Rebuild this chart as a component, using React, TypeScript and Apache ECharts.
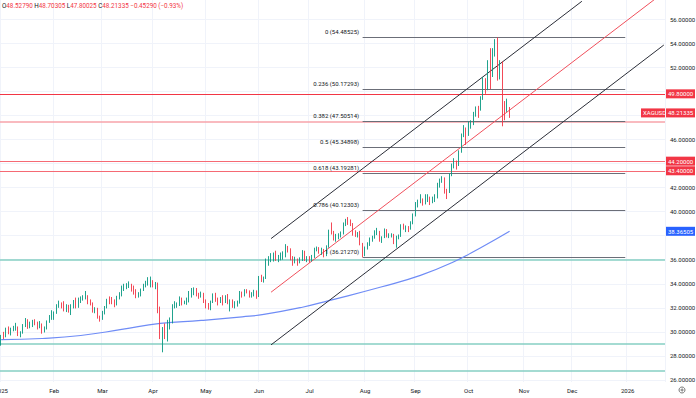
import React, { useEffect, useRef } from 'react';
import * as echarts from 'echarts';

// ---- daily candles, [open, high, low, close] per trading day ----
const jan = [
  [28.95, 29.75, 28.85, 29.65], [29.65, 30.0, 29.4, 29.62], [29.62, 30.35, 29.55, 30.05], [30.05, 30.45, 29.8, 29.95],
  [29.95, 30.35, 29.7, 30.25], [30.25, 30.5, 30.05, 30.3], [30.3, 30.75, 30.1, 30.4], [30.4, 30.45, 29.65, 29.75],
  [29.75, 30.05, 29.55, 29.95], [29.95, 30.65, 29.85, 30.55], [30.55, 31.15, 30.4, 30.95], [30.95, 31.05, 30.25, 30.4],
  [30.4, 30.85, 30.3, 30.7], [30.7, 31.0, 30.4, 30.8], [30.8, 31.05, 30.55, 30.7], [30.7, 30.85, 30.2, 30.35],
  [30.35, 30.9, 30.3, 30.65], [30.65, 30.7, 29.85, 30.1], [30.1, 30.45, 29.95, 30.35], [30.35, 30.95, 30.2, 30.85],
  [30.85, 31.4, 30.75, 31.25], [31.25, 31.8, 31.0, 31.3],
];
const feb = [
  [31.3, 31.7, 31.0, 31.6], [31.6, 32.3, 31.5, 32.2], [32.2, 32.6, 32.0, 32.35], [32.35, 32.45, 31.95, 32.15],
  [32.15, 32.55, 31.7, 31.85], [31.85, 32.3, 31.65, 32.05], [32.05, 32.25, 31.6, 31.8], [31.8, 32.3, 31.4, 32.1],
  [32.1, 32.65, 31.95, 32.5], [32.5, 32.85, 31.95, 32.05], [32.05, 32.85, 32.0, 32.75], [32.75, 32.95, 32.4, 32.85],
  [32.85, 33.05, 32.6, 32.85], [32.85, 33.4, 32.7, 32.95], [32.95, 33.05, 32.3, 32.4], [32.4, 32.7, 32.2, 32.35],
  [32.35, 32.45, 31.6, 31.75], [31.75, 32.05, 31.55, 31.9], [31.9, 32.0, 31.1, 31.2], [31.2, 31.35, 30.85, 31.1],
];
const mar = [
  [31.1, 31.75, 31.0, 31.6], [31.6, 32.15, 31.45, 32.05], [32.05, 32.75, 31.95, 32.6], [32.6, 32.95, 32.3, 32.55],
  [32.55, 32.9, 32.3, 32.5], [32.5, 32.7, 32.05, 32.3], [32.3, 33.0, 32.2, 32.9], [32.9, 33.3, 32.7, 33.05],
  [33.05, 33.85, 32.95, 33.75], [33.75, 34.0, 33.4, 33.8], [33.8, 34.05, 33.55, 33.8], [33.8, 34.2, 33.65, 33.9],
  [33.9, 34.0, 33.35, 33.75], [33.75, 33.85, 33.1, 33.45], [33.45, 33.55, 32.8, 33.05], [33.05, 33.3, 32.85, 33.05],
  [33.05, 33.6, 32.95, 33.5], [33.5, 34.0, 33.4, 33.85], [33.85, 34.25, 33.7, 34.1], [34.1, 34.55, 33.85, 34.1],
  [34.1, 34.6, 33.7, 34.1],
];
const apr = [
  [34.1, 34.3, 33.7, 33.95], [33.95, 34.15, 33.55, 34.0], [34.0, 34.1, 31.55, 31.85], [31.85, 32.1, 29.4, 29.6],
  [29.6, 30.4, 28.3, 30.05], [30.05, 30.7, 29.4, 29.55], [29.55, 31.0, 29.2, 30.75], [30.75, 31.2, 30.2, 30.85],
  [30.85, 32.3, 30.7, 32.1], [32.1, 32.55, 31.95, 32.3], [32.3, 32.45, 32.0, 32.35], [32.35, 32.95, 32.15, 32.7],
  [32.7, 32.85, 32.2, 32.4], [32.4, 32.6, 32.3, 32.5], [32.5, 32.85, 32.25, 32.55], [32.55, 33.4, 32.45, 33.0],
  [33.0, 33.65, 32.85, 33.55], [33.55, 33.7, 33.05, 33.6], [33.6, 33.65, 32.95, 33.1], [33.1, 33.25, 32.75, 33.0],
  [33.0, 33.35, 32.85, 33.2], [33.2, 33.25, 32.4, 32.6],
];
const may = [
  [32.6, 32.7, 31.95, 32.0], [32.0, 32.4, 31.85, 31.95], [31.95, 32.6, 31.8, 32.5], [32.5, 33.2, 32.4, 33.1],
  [33.1, 33.25, 32.5, 32.6], [32.6, 32.85, 32.2, 32.55], [32.55, 32.9, 32.4, 32.7], [32.7, 33.05, 32.2, 32.5],
  [32.5, 33.05, 32.4, 33.0], [33.0, 33.15, 32.3, 32.45], [32.45, 32.7, 31.7, 32.6], [32.6, 32.7, 32.0, 32.3],
  [32.3, 32.55, 31.95, 32.3], [32.3, 32.6, 32.1, 32.4], [32.4, 33.4, 32.35, 33.3], [33.3, 33.35, 32.85, 33.1],
  [33.1, 33.55, 32.95, 33.4], [33.4, 33.55, 33.2, 33.3], [33.3, 33.45, 32.85, 33.0], [33.0, 33.3, 32.85, 33.05],
  [33.05, 33.5, 32.95, 33.4], [33.4, 33.45, 32.75, 32.95],
];
const jun = [
  [32.95, 34.65, 32.9, 34.5], [34.5, 34.75, 34.15, 34.45], [34.45, 34.6, 34.1, 34.45], [34.45, 36.1, 34.4, 35.8],
  [35.8, 36.3, 35.5, 35.95], [35.95, 36.55, 35.8, 36.15], [36.15, 36.6, 35.85, 36.5], [36.5, 36.75, 35.9, 36.05],
  [36.05, 36.4, 35.8, 36.2], [36.2, 36.6, 35.95, 36.3], [36.3, 36.7, 36.0, 36.35], [36.35, 37.3, 36.2, 36.95],
  [36.95, 37.15, 36.6, 36.9], [36.9, 36.95, 35.95, 36.1], [36.1, 36.3, 35.5, 35.95], [35.95, 36.25, 35.7, 36.05],
  [36.05, 36.1, 35.5, 35.9], [35.9, 36.2, 35.7, 36.0], [36.0, 36.8, 35.9, 36.7], [36.7, 36.75, 35.9, 36.0],
  [36.0, 36.3, 35.8, 36.1],
];
const jul = [
  [36.1, 36.3, 35.75, 36.05], [36.05, 36.4, 35.85, 36.25], [36.25, 37.0, 36.15, 36.85], [36.85, 37.1, 36.7, 36.95],
  [36.95, 37.05, 36.5, 36.7], [36.7, 37.0, 36.4, 36.8], [36.8, 36.9, 36.2, 36.4], [36.4, 37.2, 36.3, 37.05],
  [37.05, 38.5, 37.0, 38.4], [38.4, 39.1, 38.1, 38.2], [38.2, 38.4, 37.6, 37.7], [37.7, 38.15, 37.5, 37.9],
  [37.9, 38.2, 37.7, 37.95], [37.95, 38.35, 37.85, 38.2], [38.2, 39.1, 38.1, 38.95], [38.95, 39.4, 38.8, 39.3],
  [39.3, 39.55, 38.9, 39.25], [39.25, 39.35, 38.8, 38.9], [38.9, 39.05, 38.0, 38.2], [38.2, 38.45, 37.9, 38.15],
  [38.15, 38.3, 37.85, 38.2], [38.2, 38.4, 37.2, 37.3], [37.3, 37.4, 36.2127, 36.7],
];
const aug = [
  [36.7, 37.1, 36.3, 37.0], [37.0, 37.45, 36.85, 37.3], [37.3, 37.85, 37.15, 37.75], [37.75, 38.0, 37.5, 37.8],
  [37.8, 38.45, 37.75, 38.3], [38.3, 38.65, 38.05, 38.35], [38.35, 38.4, 37.5, 37.65], [37.65, 37.95, 37.4, 37.85],
  [37.85, 38.6, 37.8, 38.5], [38.5, 38.55, 37.85, 38.0], [38.0, 38.2, 37.8, 38.0], [38.0, 38.2, 37.85, 38.1],
  [38.1, 38.15, 37.3, 37.4], [37.4, 38.0, 37.0, 37.9], [37.9, 38.1, 37.7, 38.0], [38.0, 38.95, 37.9, 38.9],
  [38.9, 39.0, 38.5, 38.6], [38.6, 38.85, 38.3, 38.65], [38.65, 38.8, 38.3, 38.55], [38.55, 39.2, 38.5, 39.1],
  [39.1, 39.85, 38.95, 39.7],
];
const sep = [
  [39.7, 40.8, 39.6, 40.65], [40.65, 41.0, 40.35, 40.85], [40.85, 41.45, 40.7, 41.0], [41.0, 41.1, 40.5, 40.7],
  [40.7, 41.45, 40.6, 41.0], [41.0, 41.45, 40.8, 41.15], [41.15, 41.25, 40.55, 40.85], [40.85, 41.25, 40.7, 41.05],
  [41.05, 41.45, 40.8, 41.15], [41.15, 42.4, 41.1, 42.2], [42.2, 42.75, 42.0, 42.6], [42.6, 42.95, 42.4, 42.7],
  [42.7, 42.85, 41.5, 41.7], [41.7, 41.9, 41.05, 41.6], [41.6, 43.2, 41.55, 43.1], [43.1, 44.0, 42.95, 43.8],
  [43.8, 44.45, 43.6, 44.0], [44.0, 44.25, 43.5, 43.9], [43.9, 45.1, 43.8, 45.0], [45.0, 46.5, 44.9, 46.4],
  [46.4, 47.2, 46.2, 46.8], [46.8, 47.0, 45.55, 46.4],
];
const oct = [
  [46.4, 47.5, 46.3, 47.3], [47.3, 47.6, 46.9, 47.5], [47.5, 48.3, 47.2, 48.0], [48.0, 48.75, 47.9, 48.6],
  [48.6, 48.8, 47.8, 48.5], [48.5, 49.6, 48.4, 49.5], [49.5, 51.2, 49.3, 50.2], [50.2, 51.1, 49.8, 50.15],
  [50.15, 52.6, 50.1, 52.45], [52.45, 53.6, 50.2, 51.4], [51.4, 53.6, 51.2, 53.4], [53.4, 54.35, 52.9, 54.15],
  [54.15, 54.48525, 50.9, 51.9], [51.9, 52.6, 51.0, 52.35], [52.35, 52.5, 47.1, 48.6], [48.6, 49.2, 47.6, 48.55],
  [48.55, 49.4, 48.3, 48.666], [48.5279, 48.70305, 47.80025, 48.21335],
];
const months = [jan, feb, mar, apr, may, jun, jul, aug, sep, oct];

// ---- 200-day moving average, read at sample dates ----
const maDates = ['2025-01-02', '2025-01-27', '2025-02-18', '2025-03-13', '2025-04-04', '2025-04-29', '2025-05-22',
  '2025-06-04', '2025-06-26', '2025-07-11', '2025-08-12', '2025-09-03', '2025-09-22', '2025-10-08', '2025-10-24'];
const maValues = [29.35, 29.45, 29.7, 30.2, 30.7, 30.95, 31.25, 31.45, 32.05, 32.6, 33.75, 34.7, 35.75, 37.0, 38.36505];

// ---- drawn levels ----
const redLevels = [49.8, 44.2, 43.4];
const pinkLevels = [47.45];
const tealLevels = [36.0, 29.0, 26.75];
const fibRatios = ['0', '0.236', '0.382', '0.5', '0.618', '0.786', '1'];
const fibValues = [54.48525, 50.17293, 47.50514, 45.34898, 43.19281, 40.12303, 36.2127];
const fibStart = '2025-07-31';
const fibEnd = '2025-12-31';

// ---- trend channel (start, end) ----
const channelStart = '2025-06-09';
const upperEnd = '2025-12-05';
const middleEnd = '2026-01-16';
const lowerEnd = '2026-01-22';
const upperVals = [37.76, 57.5];
const middleVals = [33.3, 57.63];
const lowerVals = [28.92, 53.86];

const yTicks = [26, 28, 30, 32, 34, 36, 38, 40, 42, 44, 46, 48, 50, 52, 54, 56];
const monthNames = ['Jan', 'Feb', 'Mar', 'Apr', 'May', 'Jun', 'Jul', 'Aug', 'Sep', 'Oct', 'Nov', 'Dec'];

const headerOpen = '48.52790';
const headerHigh = '48.70305';
const headerLow = '47.80025';
const headerClose = '48.21335';
const headerChange = '−0.45290 (−0.93%)';
const symbol = 'XAGUSD';

function buildDates(y: number, m: number, d: number, count: number): string[] {
  const out: string[] = [];
  const dt = new Date(Date.UTC(y, m, d));
  while (out.length < count) {
    const wd = dt.getUTCDay();
    if (wd !== 0 && wd !== 6) out.push(dt.toISOString().slice(0, 10));
    dt.setUTCDate(dt.getUTCDate() + 1);
  }
  return out;
}

const dates = buildDates(2025, 0, 2, 276);
const bars = months.flat();
const candleData = bars.map((b) => [b[0], b[3], b[2], b[1]]);
const candleDates = dates.slice(0, bars.length);
const lastClose = bars[bars.length - 1][3];
const lastMa = maValues[maValues.length - 1];
const badgeValues = [...redLevels, lastClose, lastMa];
const labelTicks = yTicks.filter((t) => badgeValues.every((b) => Math.abs(b - t) > 0.45));

const isMonthStart = (i: number) => i === 0 || dates[i].slice(5, 7) !== dates[i - 1].slice(5, 7);

const FONT = 'Roboto, sans-serif';

export default function App() {
  const ref = useRef<HTMLDivElement>(null);
  useEffect(() => {
    if (!ref.current) return;
    const chart = echarts.init(ref.current, null, { renderer: 'svg' });
    const solid = (color: string, width: number) => ({ color, width, type: 'solid' as const });
    const markData: any[] = [
      ...tealLevels.map((v) => ({ yAxis: v, lineStyle: solid('#86cfc3', 1.5) })),
      ...pinkLevels.map((v) => ({ yAxis: v, lineStyle: solid('#f7a3aa', 1.5) })),
      ...redLevels.map((v, i) => ({ yAxis: v, lineStyle: solid(i === 0 ? '#f23645' : '#f56a74', i === 0 ? 1.2 : 1) })),
      ...fibValues.map((v) => [
        { coord: [fibStart, v], lineStyle: solid('#6b6e78', 1) },
        { coord: [fibEnd, v] },
      ]),
    ];
    const lineSeries = (name: string, data: any[], color: string, width: number, smooth = false) => ({
      name, type: 'line', data, symbol: 'none', silent: true, smooth,
      lineStyle: { color, width }, z: 3,
    });
    chart.setOption({
      animation: false,
      textStyle: { fontFamily: FONT },
      grid: { left: 0, right: 31, top: 0, bottom: 16, outerBoundsMode: 'none', containLabel: false },
      xAxis: {
        type: 'category', data: dates, boundaryGap: true,
        axisLine: { show: false }, axisTick: { show: false },
        axisLabel: {
          interval: (i: number) => isMonthStart(i),
          formatter: (v: string) => {
            const m = parseInt(v.slice(5, 7), 10);
            return m === 1 ? v.slice(0, 4) : monthNames[m - 1];
          },
          fontSize: 6, color: '#131722', margin: 5,
        },
        splitLine: { show: true, interval: (i: number) => isMonthStart(i), lineStyle: { color: '#f0f3fa', width: 1 } },
      },
      yAxis: {
        type: 'value', position: 'right', min: 25.83, max: 57.606,
        axisLine: { show: false },
        axisTick: { show: false, customValues: yTicks },
        axisLabel: { customValues: labelTicks, formatter: (v: number) => v.toFixed(5), fontSize: 6, color: '#131722', margin: 5 },
        splitLine: { show: true, lineStyle: { color: '#f0f3fa', width: 1 } },
      },
      series: [
        {
          type: 'candlestick', data: candleData.map((d, i) => [candleDates[i], ...d]),
          encode: { x: 0, y: [1, 2, 3, 4] },
          barWidth: 1,
          itemStyle: { color: '#089981', color0: '#f23645', borderColor: '#089981', borderColor0: '#f23645', borderWidth: 0.9 },
          z: 4,
          markLine: {
            symbol: ['none', 'none'], silent: true, animation: false,
            label: { show: false }, emphasis: { disabled: true },
            data: markData, z: 2,
          },
        },
        lineSeries('ma', maDates.map((d, i) => [d, maValues[i]]), '#6f8cf6', 1.2, true),
        lineSeries('upper', [[channelStart, upperVals[0]], [upperEnd, upperVals[1]]], '#2b2e38', 1),
        lineSeries('middle', [[channelStart, middleVals[0]], [middleEnd, middleVals[1]]], '#f0505c', 1),
        lineSeries('lower', [[channelStart, lowerVals[0]], [lowerEnd, lowerVals[1]]], '#2b2e38', 1),
      ],
    });

    const yPix = (v: number) => chart.convertToPixel({ yAxisIndex: 0 }, v) as number;
    const xPix = (d: string) => chart.convertToPixel({ xAxisIndex: 0 }, d) as number;
    const fx = xPix(fibStart);
    const txt = (x: number, y: number, text: string, fill: string, align = 'left') => ({
      type: 'text', x, y, z: 50,
      style: { text, fill, fontSize: 6, fontFamily: FONT, align, textAlign: align, verticalAlign: 'middle', textVerticalAlign: 'middle' },
    });
    const badge = (v: number, color: string, label: string) => [
      { type: 'rect', shape: { x: 666, y: yPix(v) - 4.5, width: 29, height: 9 }, style: { fill: color }, z: 49 },
      txt(668, yPix(v), label, '#ffffff'),
    ];
    const graphics: any[] = [
      ...fibValues.map((v, i) => txt(fx - 3.5, yPix(v) - 6, `${fibRatios[i]} (${v.toFixed(5)})`, '#131722', 'right')),
      ...redLevels.flatMap((v) => badge(v, '#f23645', v.toFixed(5))),
      ...badge(lastClose, '#f23645', lastClose.toFixed(5)),
      { type: 'rect', shape: { x: 641, y: yPix(lastClose) - 4.5, width: 24, height: 9 }, style: { fill: '#f23645' }, z: 49 },
      txt(643, yPix(lastClose), symbol, '#ffffff'),
      ...badge(lastMa, '#2962ff', lastMa.toFixed(5)),
      {
        type: 'text', x: 2, y: 6, z: 50,
        style: {
          text: `{k|O}{v|${headerOpen}} {k|H}{v|${headerHigh}} {k|L}{v|${headerLow}} {k|C}{v|${headerClose}} {v|${headerChange}}`,
          verticalAlign: 'middle', textVerticalAlign: 'middle', fontSize: 6.3, fontFamily: FONT,
          rich: {
            k: { fill: '#131722', fontSize: 6.3, fontFamily: FONT },
            v: { fill: '#f23645', fontSize: 6.3, fontFamily: FONT },
          },
        },
      },
      { type: 'circle', shape: { cx: 682, cy: 390, r: 3 }, style: { fill: 'none', stroke: '#555', lineWidth: 0.8 }, z: 50 },
      { type: 'circle', shape: { cx: 682, cy: 390, r: 1 }, style: { fill: 'none', stroke: '#555', lineWidth: 0.8 }, z: 50 },
    ];
    chart.setOption({ graphic: graphics });
    return () => chart.dispose();
  }, []);
  return (
    <div
      ref={ref}
      style={{ position: 'fixed', left: 0, top: 0, width: 696, height: 398, background: '#ffffff' }}
    />
  );
}
